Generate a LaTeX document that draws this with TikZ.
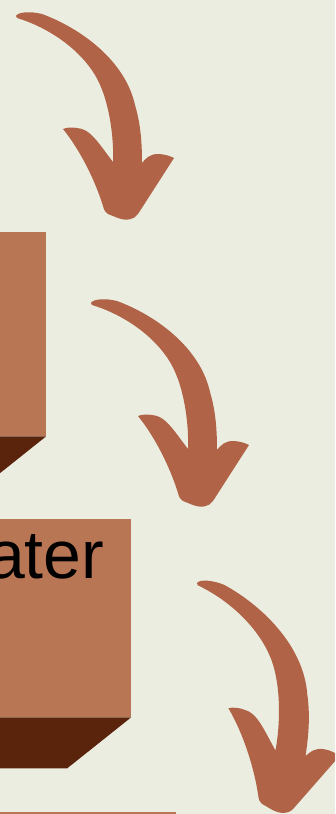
\documentclass[tikz,border=0pt]{standalone}
\usepackage{fontspec}
\setmainfont{Liberation Sans}
\usepackage{xcolor}
\definecolor{paper}{HTML}{EBEDE0}
\definecolor{swoosh}{HTML}{B06346}
\definecolor{slab}{HTML}{B87654}
\definecolor{slabside}{HTML}{5A240C}

\begin{document}
\begin{tikzpicture}[x=0.03cm, y=-0.03cm,
  stepbox/.style={fill=slab, inner sep=0, anchor=north east,
    minimum width=9cm, minimum height=#1},
  stepshade/.style={fill=slabside},
  bendarrow/.pic={
    \fill[swoosh] (0,0) .. controls (2,-4) and (14,-5) .. (26,-2)
      .. controls (64,12) and (109,44) .. (119,89)
      .. controls (125,109) and (126,129) .. (126,147)
      .. controls (130,142) and (134,138) .. (142,138)
      .. controls (148,138) and (154,140) .. (158,142)
      -- (122,198) .. controls (118,204) and (110,205) .. (102,202)
      -- (92,198) .. controls (89,196) and (88,194) .. (87,190)
      .. controls (79,164) and (64,134) .. (47,113)
      .. controls (51,111) and (59,111) .. (66,113)
      .. controls (76,116) and (84,129) .. (97,146)
      .. controls (98,124) and (94,84) .. (79,59)
      .. controls (64,34) and (34,12) .. (1,2) -- cycle;
  },
]
  \useasboundingbox (0,0) rectangle (335,814);
  \fill[paper] (0,0) rectangle (335,814);
  \clip (0,0) rectangle (335,814);

  % boxes of the staircase
  \node[stepbox=6.12cm] (box1) at (46,232) {};
  \fill[stepshade] (box1.south east) -- ++(-64,51) -- ++(-300,0) -- (box1.south west) -- cycle;

  \node[stepbox=5.94cm] (box2) at (131,519) {};
  \fill[stepshade] (box2.south east) -- ++(-64,51) -- ++(-300,0) -- (box2.south west) -- cycle;
  \node[anchor=base east, inner sep=0, font=\fontsize{58}{66}\selectfont] (box2text) at (104.5,578) {ater};

  \node[stepbox=6cm] (box3) at (176,812) {};

  % curved arrows
  \pic at (16,16) {bendarrow};
  \pic at (91,303) {bendarrow};
  \pic[rotate=-8.5, scale=1.055] at (197,583) {bendarrow};
\end{tikzpicture}
\end{document}
